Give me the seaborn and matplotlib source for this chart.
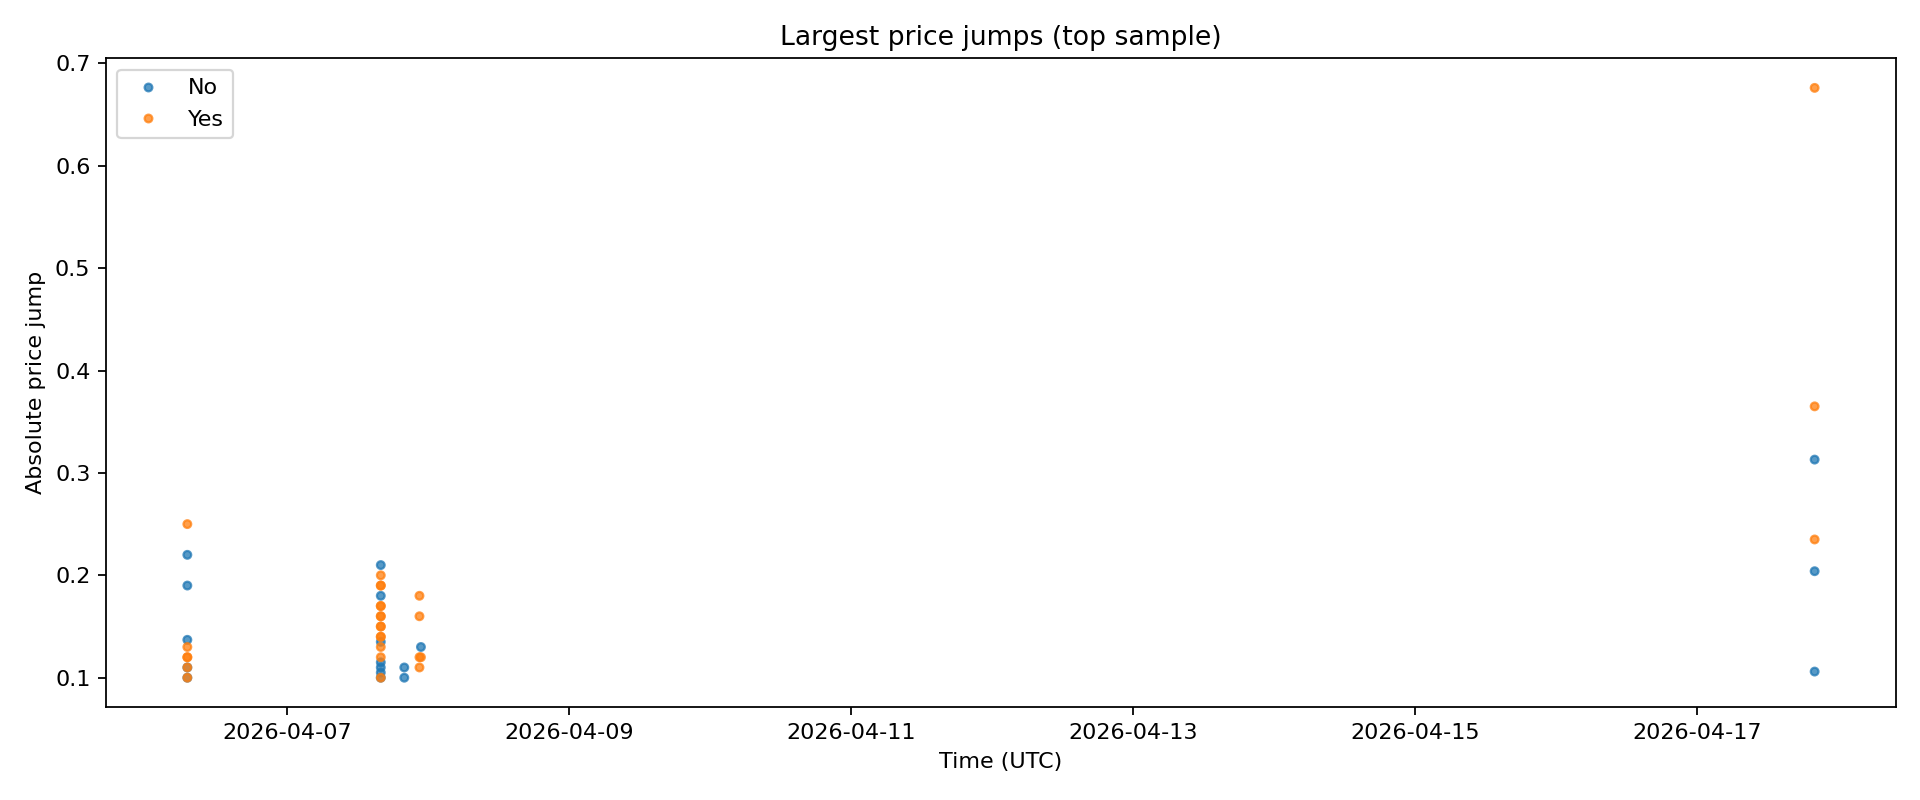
import matplotlib
matplotlib.use("Agg")
import matplotlib.pyplot as plt
import matplotlib.dates as mdates
import seaborn as sns
import pandas as pd

# --- data ---
no_times = (["2026-04-06 07:05"] * 5
            + ["2026-04-07 16:00"] * 7
            + ["2026-04-07 20:00"] * 2
            + ["2026-04-07 22:50"]
            + ["2026-04-17 20:00"] * 3)
no_values = ([0.22, 0.19, 0.137, 0.11, 0.10]
             + [0.21, 0.18, 0.135, 0.115, 0.11, 0.105, 0.10]
             + [0.11, 0.10]
             + [0.13]
             + [0.313, 0.204, 0.106])

yes_times = (["2026-04-06 07:05"] * 6
             + ["2026-04-07 16:00"] * 14
             + ["2026-04-07 22:35"] * 4
             + ["2026-04-07 22:50"]
             + ["2026-04-17 20:00"] * 3)
yes_values = ([0.25, 0.13, 0.12, 0.12, 0.11, 0.10]
              + [0.20, 0.19, 0.19, 0.17, 0.17, 0.16, 0.16, 0.15, 0.15,
                 0.14, 0.14, 0.13, 0.12, 0.10]
              + [0.18, 0.16, 0.12, 0.11]
              + [0.12]
              + [0.676, 0.365, 0.235])

sides = ["No", "Yes"]
xtick_days = [7, 9, 11, 13, 15, 17]

df = pd.DataFrame({
    "time": pd.to_datetime(no_times + yes_times),
    "jump": no_values + yes_values,
    "side": ["No"] * len(no_values) + ["Yes"] * len(yes_values),
})

fig, ax = plt.subplots(figsize=(12, 5), dpi=160)
fig.subplots_adjust(left=0.0552, right=0.9875, top=0.927, bottom=0.116)

palette = {"No": "#1f77b4", "Yes": "#ff7f0e"}
sns.scatterplot(data=df, x="time", y="jump", hue="side", hue_order=sides,
                palette=palette, s=12, alpha=0.75, edgecolor="face",
                linewidth=1.0, ax=ax)

handles, labels = ax.get_legend_handles_labels()
ax.legend(handles, labels, loc="upper left")

ax.xaxis.set_major_locator(mdates.DayLocator(bymonthday=xtick_days))
ax.xaxis.set_major_formatter(mdates.DateFormatter("%Y-%m-%d"))
ax.set_title("Largest price jumps (top sample)")
ax.set_xlabel("Time (UTC)")
ax.set_ylabel("Absolute price jump")

fig.savefig("out.png", dpi=160)
